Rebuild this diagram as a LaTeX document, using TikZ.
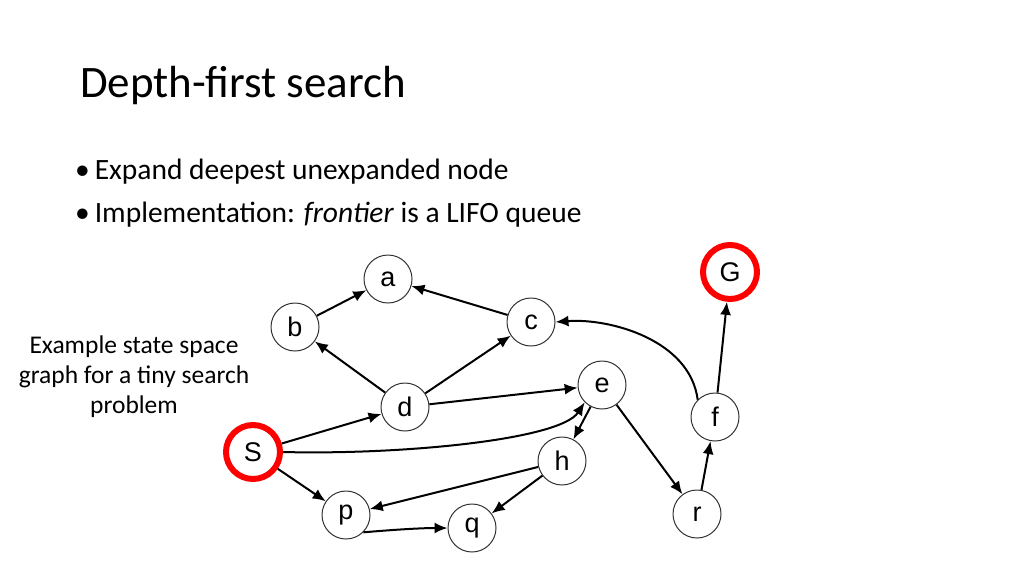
\documentclass[tikz,border=0pt]{standalone}
\usepackage{fontspec}
\setmainfont{Carlito}
\newfontfamily\arialf{Liberation Sans}
\usetikzlibrary{arrows.meta}
\begin{document}
\begin{tikzpicture}[x=1pt,y=-1pt,
  st/.style={circle,draw=black!80,line width=1pt,fill=white,minimum size=48pt,inner sep=0pt,font=\arialf\fontsize{27}{30}\selectfont},
  goal/.style={st,draw=red,line width=6pt,minimum size=54pt},
  ed/.style={-{Latex[length=13pt,width=11pt]},line width=2pt,black}]
\useasboundingbox (0,0) rectangle (1024,576);
\node[anchor=west,inner sep=0pt,font=\fontsize{45}{50}\selectfont] (title) at (80,85) {Depth-first search};
\node[anchor=west,inner sep=0pt,font=\fontsize{29.5}{34}\selectfont] (b1) at (75,172) {\textbullet\,Expand deepest unexpanded node};
\node[anchor=west,inner sep=0pt,font=\fontsize{29.5}{34}\selectfont] (b2) at (75,215) {\textbullet\,Implementation: \textit{frontier} is a LIFO queue};
\node[align=center,font=\fontsize{25.5}{30}\selectfont] (cap) at (134,377) {Example state space\\graph for a tiny search\\problem};
\node[st] (a) at (388,279) {a};
\node[st] (b) at (295,327) {b};
\node[st] (c) at (531,322) {c};
\node[st] (d) at (405,407) {d};
\node[st] (e) at (602,385) {e};
\node[st] (f) at (715,417) {f};
\node[goal] (G) at (730,272) {G};
\node[goal] (S) at (253,452) {S};
\node[st] (h) at (562,461) {h};
\node[st] (p) at (346,515) {p};
\node[st] (q) at (472,528) {q};
\node[st] (r) at (697,514) {r};
\draw[ed] (b) -- (a);
\draw[ed] (c) -- (a);
\draw[ed] (d) -- (b);
\draw[ed] (d) -- (c);
\draw[ed] (d) -- (e);
\draw[ed] (S) -- (d);
\draw[ed] (S.east) .. controls (400,455) and (560,440) .. (e.south west);
\draw[ed] (e) -- (h);
\draw[ed] (e) -- (r);
\draw[ed] (h) -- (p);
\draw[ed] (h) -- (q);
\draw[ed] (p.south east) .. controls (390,530) and (420,528) .. (q.west);
\draw[ed] (S) -- (p);
\draw[ed] (r) -- (f);
\draw[ed] (f) -- (G);
\draw[ed] (f.north west) .. controls (690,340) and (610,318) .. (c.east);
\end{tikzpicture}
\end{document}
